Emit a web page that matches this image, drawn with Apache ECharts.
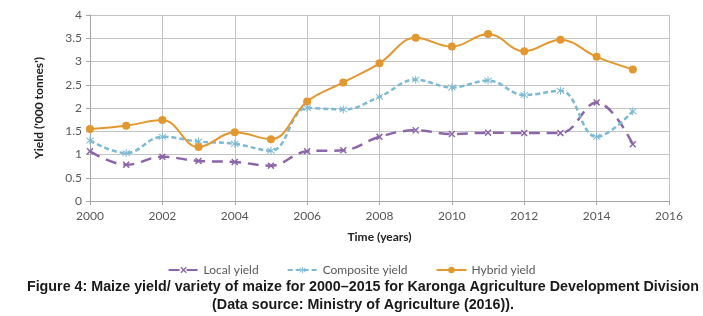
<!DOCTYPE html>
<html>
<head>
<meta charset="utf-8">
<script src="https://cdn.jsdelivr.net/npm/echarts@6/dist/echarts.min.js"></script>
<style>
  html, body { margin: 0; padding: 0; background: #fff; }
  #main { width: 703px; height: 316px; }
</style>
</head>
<body>
<div id="main"></div>
<script>
const years = [2000, 2001, 2002, 2003, 2004, 2005, 2006, 2007, 2008, 2009, 2010, 2011, 2012, 2013, 2014, 2015];
const localYield = [1.07, 0.78, 0.95, 0.86, 0.84, 0.76, 1.07, 1.09, 1.38, 1.52, 1.44, 1.47, 1.46, 1.46, 2.12, 1.22];
const compositeYield = [1.3, 1.03, 1.38, 1.28, 1.23, 1.08, 2.0, 1.97, 2.24, 2.61, 2.44, 2.59, 2.28, 2.37, 1.38, 1.93];
const hybridYield = [1.55, 1.62, 1.74, 1.16, 1.48, 1.33, 2.14, 2.55, 2.96, 3.51, 3.32, 3.59, 3.22, 3.47, 3.1, 2.83];
const yTicks = [0, 0.5, 1, 1.5, 2, 2.5, 3, 3.5, 4];

const xMark = 'path://M0,1.5 L1.5,0 L5,3.5 L8.5,0 L10,1.5 L6.5,5 L10,8.5 L8.5,10 L5,6.5 L1.5,10 L0,8.5 L3.5,5 Z';
const starMark = 'path://M4.4,0 H5.6 V4 L8.8,1 L9.6,1.8 L6.2,5 L9.6,8.2 L8.8,9 L5.6,6 V10 H4.4 V6 L1.2,9 L0.4,8.2 L3.8,5 L0.4,1.8 L1.2,1 L4.4,4 Z';

const pairs = vals => years.map((y, i) => [y, vals[i]]);

const grey = '#595959';
const gridColor = '#c4c4c4';

const chart = echarts.init(document.getElementById('main'));
chart.setOption({
  backgroundColor: '#fff',
  animation: false,
  textStyle: { fontFamily: 'Lato, "DejaVu Sans", sans-serif' },
  grid: { left: 90, right: 34, top: 15, bottom: 115 },
  title: {
    text: 'Figure 4: Maize yield/ variety of maize for 2000\u20132015 for Karonga Agriculture Development Division\n(Data source: Ministry of Agriculture (2016)).',
    left: 358,
    top: 273,
    textAlign: 'center',
    textStyle: {
      fontFamily: '"Liberation Sans", Arial, sans-serif',
      fontWeight: 'bold',
      fontSize: 14.3,
      lineHeight: 18,
      color: '#1a1a1a'
    }
  },
  legend: {
    top: 259,
    left: 'center',
    itemWidth: 30,
    itemHeight: 8,
    itemGap: 28,
    textStyle: { color: grey, fontSize: 12 },
    data: ['Local yield', 'Composite yield', 'Hybrid yield']
  },
  xAxis: {
    type: 'value',
    min: 2000,
    max: 2016,
    interval: 2,
    name: 'Time (years)',
    nameLocation: 'middle',
    nameGap: 30,
    nameTextStyle: { color: '#222', fontWeight: 'bold', fontSize: 12 },
    axisLine: { lineStyle: { color: '#a6a6a6' } },
    axisTick: { show: true, length: 4, lineStyle: { color: '#a6a6a6' } },
    axisLabel: { color: grey, fontSize: 12, margin: 9, formatter: v => String(v) },
    splitLine: { show: true, lineStyle: { color: gridColor } }
  },
  yAxis: {
    type: 'value',
    min: yTicks[0],
    max: yTicks[yTicks.length - 1],
    interval: yTicks[1] - yTicks[0],
    name: "Yield ('000 tonnes')",
    nameLocation: 'middle',
    nameGap: 45,
    nameTextStyle: { color: '#222', fontWeight: 'bold', fontSize: 12 },
    axisLine: { show: true, lineStyle: { color: '#a6a6a6' } },
    axisTick: { show: true, length: 4, lineStyle: { color: '#a6a6a6' } },
    axisLabel: { color: grey, fontSize: 12, margin: 8 },
    splitLine: { show: true, lineStyle: { color: gridColor } }
  },
  series: [
    {
      name: 'Local yield',
      type: 'line',
      smooth: 0.4,
      data: pairs(localYield),
      symbol: xMark,
      symbolSize: 7,
      itemStyle: { color: '#8c66a9' },
      lineStyle: { width: 2.5, type: [11, 7], color: '#8c66a9' }
    },
    {
      name: 'Composite yield',
      type: 'line',
      smooth: 0.4,
      data: pairs(compositeYield),
      symbol: starMark,
      symbolSize: 8,
      itemStyle: { color: '#7dbad3' },
      lineStyle: { width: 2.5, type: [5, 3], color: '#7dbad3' }
    },
    {
      name: 'Hybrid yield',
      type: 'line',
      smooth: 0.4,
      data: pairs(hybridYield),
      symbol: 'circle',
      symbolSize: 8,
      itemStyle: { color: '#e3982f' },
      lineStyle: { width: 2, color: '#e3982f' }
    }
  ]
});
</script>
</body>
</html>
